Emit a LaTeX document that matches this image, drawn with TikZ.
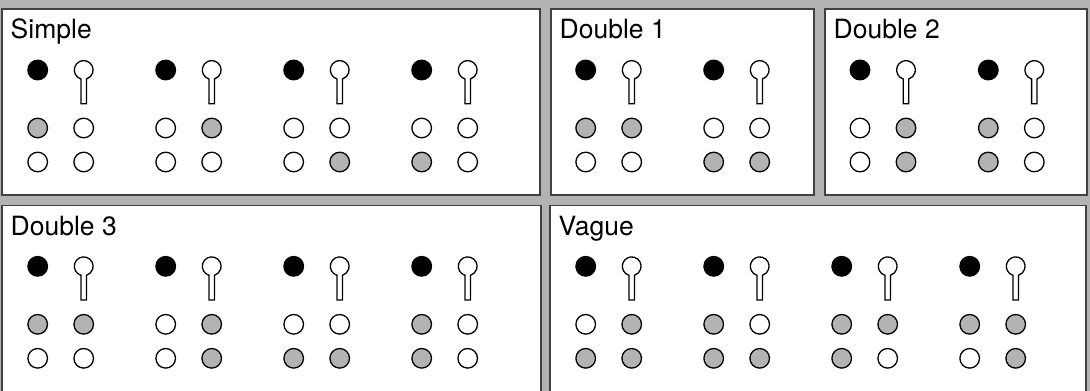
\documentclass[tikz,border=0pt]{standalone}
\usepackage{fontspec}
\setmainfont{TeX Gyre Heros}
\usepackage{tikz}
\usetikzlibrary{positioning}

\definecolor{bggray}{HTML}{B3B3B3}
\definecolor{dotgray}{HTML}{B3B3B3}
\definecolor{edgegray}{HTML}{404040}

% one black dot, one keyhole and the 2x2 block below them
\newcommand{\dotgroup}[6]{%
  \begin{scope}[shift={(#1,#2)}]
    \draw[dot,fill=black] (0,0) circle[radius=9.8];
    \draw[dot,fill=white] (43.3,33.7) -- (43.3,9.0)
      arc[start angle=106.7,end angle=433.3,radius=9.4] -- (48.7,33.7) -- cycle;
    \draw[dot,fill=#3] (0,58) circle[radius=9.8];
    \draw[dot,fill=#4] (46,58) circle[radius=9.8];
    \draw[dot,fill=#5] (0,92) circle[radius=9.8];
    \draw[dot,fill=#6] (46,92) circle[radius=9.8];
  \end{scope}}

\begin{document}
\begin{tikzpicture}[
  x=1pt,y=-1pt,
  panel/.style={draw=edgegray,line width=1.4pt,fill=white},
  title/.style={anchor=base west,inner sep=0pt,font=\fontsize{26.5}{31}\selectfont},
  dot/.style={draw=black,line width=1.3pt}
]
\useasboundingbox (0,0) rectangle (1090,391);
\clip (0,0) rectangle (1090,391);
\fill[bggray] (0,0) rectangle (1090,391);

% panels
\draw[panel] (2,9) rectangle (540,195);
\draw[panel] (551,9) rectangle (814,195);
\draw[panel] (825,9) rectangle (1087,195);
\draw[panel] (2,205.5) rectangle (541,400);
\draw[panel] (550,205.5) rectangle (1086,400);

\node[title] (tsimple) at (10.5,38.5) {Simple};
\node[title] (tdoubleA) at (559.5,38.5) {Double 1};
\node[title] (tdoubleB) at (833.5,38.5) {Double 2};
\node[title] (tdoubleC) at (10.5,235) {Double 3};
\node[title] (tvague) at (558.5,235) {Vague};

% Simple
\dotgroup{37.7}{70}{dotgray}{white}{white}{white}
\dotgroup{165.7}{70}{white}{dotgray}{white}{white}
\dotgroup{293.7}{70}{white}{white}{white}{dotgray}
\dotgroup{421.7}{70}{white}{white}{dotgray}{white}
% Double 1
\dotgroup{585.7}{70}{dotgray}{dotgray}{white}{white}
\dotgroup{713.7}{70}{white}{white}{dotgray}{dotgray}
% Double 2
\dotgroup{860}{70}{white}{dotgray}{white}{dotgray}
\dotgroup{988.3}{70}{dotgray}{white}{dotgray}{white}
% Double 3
\dotgroup{37.7}{266.3}{dotgray}{dotgray}{white}{white}
\dotgroup{165.7}{266.3}{white}{dotgray}{white}{dotgray}
\dotgroup{293.7}{266.3}{white}{white}{dotgray}{dotgray}
\dotgroup{421.7}{266.3}{dotgray}{white}{dotgray}{white}
% Vague
\dotgroup{585.7}{266.3}{white}{dotgray}{dotgray}{dotgray}
\dotgroup{713.7}{266.3}{dotgray}{white}{dotgray}{dotgray}
\dotgroup{841.7}{266.3}{dotgray}{dotgray}{dotgray}{white}
\dotgroup{969.7}{266.3}{dotgray}{dotgray}{white}{dotgray}
\end{tikzpicture}
\end{document}
